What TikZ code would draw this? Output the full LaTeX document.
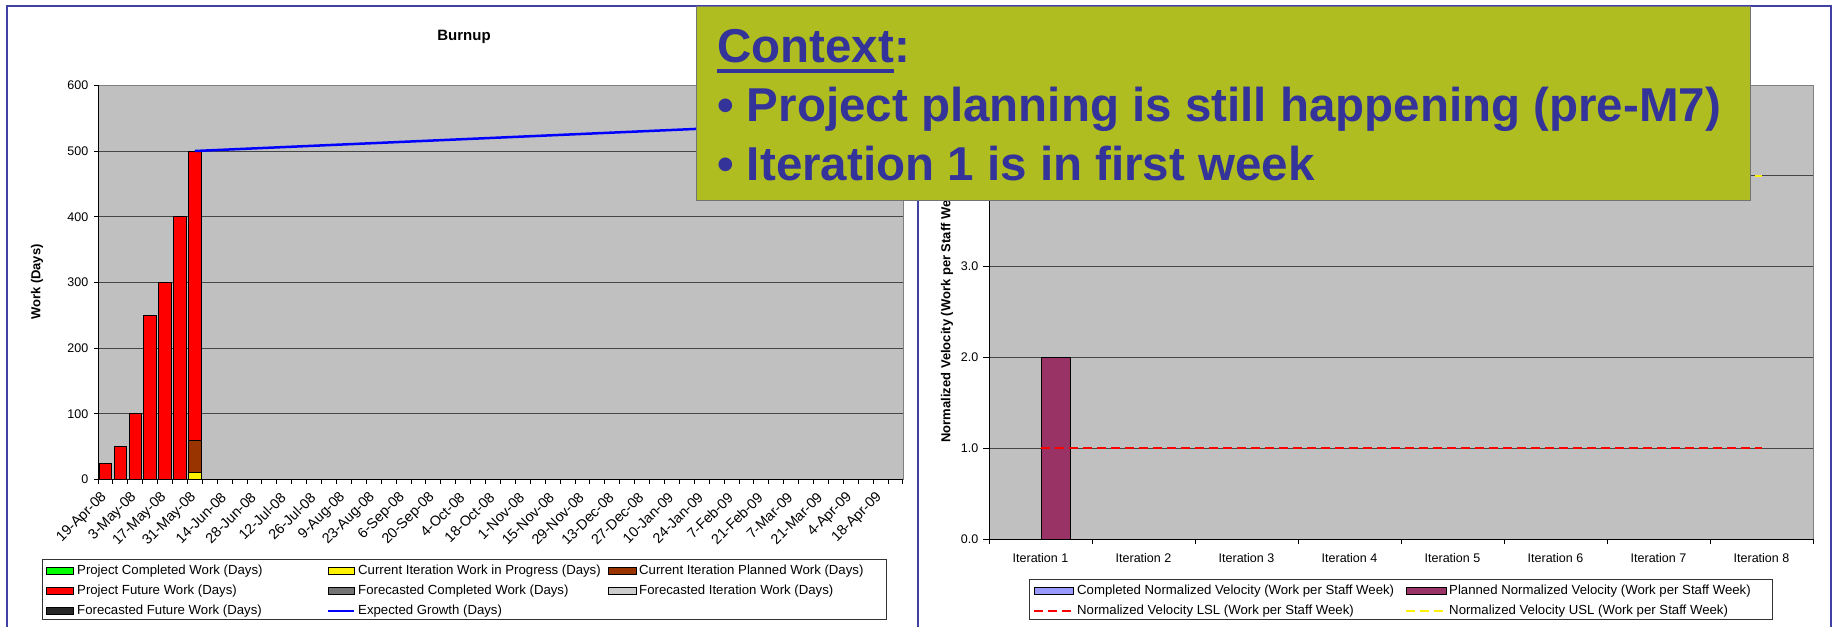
\documentclass[tikz,border=0pt]{standalone}
\usepackage{fontspec}
\setmainfont{Liberation Sans}
\usetikzlibrary{patterns}
\definecolor{plotbg}{RGB}{192,192,192}
\definecolor{frameblue}{RGB}{64,64,165}
\definecolor{callfill}{RGB}{175,189,33}
\definecolor{calltext}{RGB}{51,51,153}
\definecolor{gridc}{RGB}{70,70,70}
\definecolor{brownc}{RGB}{153,51,0}
\definecolor{maroonc}{RGB}{153,51,102}
\definecolor{lavc}{RGB}{153,153,255}
\definecolor{greenc}{RGB}{0,255,0}
\newcommand\tickfnt{\fontsize{12.5}{14}\selectfont}
\newcommand\datefnt{\fontsize{14.3}{16}\selectfont}
\newcommand\legfnt{\fontsize{13.2}{15}\selectfont}
\newcommand\callfnt{\fontsize{47.5}{50}\selectfont\bfseries}
\tikzset{
  gridline/.style={gridc, line width=1pt},
  axisline/.style={black, line width=1pt},
  plotframe/.style={gray, line width=1pt},
  barbox/.style={draw=black, line width=0.9pt},
  ticklab/.style={font=\tickfnt, inner sep=0pt},
  datelab/.style={font=\datefnt, inner sep=0pt, rotate=45, anchor=east},
  legtext/.style={font=\legfnt, anchor=west, inner sep=0pt},
  legbox/.style={draw=black!80, line width=1pt, fill=white},
  swatch/.style={draw=black, line width=0.9pt},
  hatchdark/.style={swatch, shading angle=45, left color=black!85, middle color=white, right color=black!85},
  hatchmid/.style={swatch, shading angle=45, left color=black!55, middle color=white, right color=black!55},
  hatchlight/.style={swatch, shading angle=45, left color=black!20, middle color=white, right color=black!20},
  lsl/.style={red, line width=2pt, dash pattern=on 9pt off 5pt},
  usl/.style={yellow, line width=2pt, dash pattern=on 9pt off 5pt},
  frame/.style={frameblue, line width=2pt},
  calltxt/.style={text=calltext, font=\callfnt, anchor=base west, inner sep=0pt},
}
\begin{document}
\begin{tikzpicture}[x=1pt,y=-1pt]
\useasboundingbox (0,0) rectangle (1835,626);
\fill[white] (0,0) rectangle (1835,626);

% ================= LEFT CHART (Burnup) =================
\fill[plotbg] (98,85) rectangle (903,479.5);
\foreach \v in {100,200,300,400,500}
  \draw[gridline] (98,{479.5-\v*0.657}) -- (903,{479.5-\v*0.657});
\draw[plotframe] (98,85) rectangle (903,479.5);
\draw[axisline] (98,85) -- (98,479.5) -- (903,479.5);
\foreach \v in {0,100,200,300,400,500,600}{
  \draw[axisline] (94,{479.5-\v*0.657}) -- (98,{479.5-\v*0.657});
  \node[ticklab, anchor=east] (ly\v) at (88.5,{479.5-\v*0.657}) {\v};
}
\foreach \k in {0,...,54}
  \draw[axisline] ({98+\k*14.907},479.5) -- ({98+\k*14.907},484);
\foreach \d [count=\k from 0] in {19-Apr-08,3-May-08,17-May-08,31-May-08,14-Jun-08,28-Jun-08,12-Jul-08,26-Jul-08,9-Aug-08,23-Aug-08,6-Sep-08,20-Sep-08,4-Oct-08,18-Oct-08,1-Nov-08,15-Nov-08,29-Nov-08,13-Dec-08,27-Dec-08,10-Jan-09,24-Jan-09,7-Feb-09,21-Feb-09,7-Mar-09,21-Mar-09,4-Apr-09,18-Apr-09}
  \node[datelab] (lx\k) at ({98+(2*\k+0.5)*14.907-1},495) {\d};

% bars
\foreach \i/\h in {0/25,1/50,2/100,3/250,4/300,5/400}
  \draw[barbox, fill=red] ({98+(\i+0.5)*14.907-6.25},479.5) rectangle ({98+(\i+0.5)*14.907+6.25},{479.5-\h*0.657});
\draw[barbox, fill=yellow] ({98+6.5*14.907-6.25},479.5) rectangle ({98+6.5*14.907+6.25},{479.5-10*0.657});
\draw[barbox, fill=brownc] ({98+6.5*14.907-6.25},{479.5-10*0.657}) rectangle ({98+6.5*14.907+6.25},{479.5-60*0.657});
\draw[barbox, fill=red] ({98+6.5*14.907-6.25},{479.5-60*0.657}) rectangle ({98+6.5*14.907+6.25},{479.5-500*0.657});

% expected growth
\coordinate (gs) at ({98+6.5*14.907},151);
\coordinate (ge) at (903,119.8);
\draw[blue, line width=2.5pt] (gs) -- (ge);

\node[font=\bfseries\fontsize{15}{17}\selectfont] (ltitle) at (464,37) {Burnup};
\node[font=\bfseries\fontsize{13}{15}\selectfont, rotate=90] (lytitle) at (37,282) {Work (Days)};

% left legend
\draw[legbox] (42,559) rectangle (886,619);
\draw[swatch, fill=greenc] (46,567.5) rectangle (73,574.5);
\node[legtext] (lg1) at (77,571) {Project Completed Work (Days)};
\draw[swatch, fill=red] (46,587.5) rectangle (73,594.5);
\node[legtext] (lg2) at (77,591) {Project Future Work (Days)};
\shade[hatchdark] (46,607.5) rectangle (73,614.5);
\node[legtext] (lg3) at (77,611) {Forecasted Future Work (Days)};
\draw[swatch, fill=yellow] (328,567.5) rectangle (354,574.5);
\node[legtext] (lg4) at (358,571) {Current Iteration Work in Progress (Days)};
\shade[hatchmid] (328,587.5) rectangle (354,594.5);
\node[legtext] (lg5) at (358,591) {Forecasted Completed Work (Days)};
\draw[blue, line width=2.5pt] (328,611) -- (354,611);
\node[legtext] (lg6) at (358,611) {Expected Growth (Days)};
\draw[swatch, fill=brownc] (608,567.5) rectangle (636,574.5);
\node[legtext] (lg7) at (639,571) {Current Iteration Planned Work (Days)};
\shade[hatchlight] (608,587.5) rectangle (636,594.5);
\node[legtext] (lg8) at (639,591) {Forecasted Iteration Work (Days)};

% ================= RIGHT CHART (Velocity) =================
\fill[plotbg] (989,85) rectangle (1813,539);
\foreach \v in {1,2,3,4}
  \draw[gridline] (989,{539-\v*90.8}) -- (1813,{539-\v*90.8});
\draw[plotframe] (989,85) rectangle (1813,539);
\draw[axisline] (989,85) -- (989,539) -- (1813,539);
\foreach \v in {0,1,2,3,4,5}{
  \draw[axisline] (983,{539-\v*90.8}) -- (989,{539-\v*90.8});
  \node[ticklab, anchor=east] (ry\v) at (978.5,{539-\v*90.8}) {\v.0};
}
\foreach \k in {0,...,8}
  \draw[axisline] ({989+\k*103},539) -- ({989+\k*103},543.5);
\foreach \k in {1,...,8}
  \node[ticklab] (rx\k) at ({989+(\k-0.5)*103},558) {Iteration \k};

\draw[barbox, fill=maroonc] (1041,539) rectangle (1070,{539-2*90.8});
\coordinate (ls) at (1040.5,{539-90.8});
\coordinate (le) at (1761.5,{539-90.8});
\draw[lsl] (ls) -- (le);
\coordinate (us) at (1040.5,{539-4*90.8});
\coordinate (ue) at (1761.5,{539-4*90.8});
\draw[usl] (us) -- (ue);

\node[font=\bfseries\fontsize{13}{15}\selectfont, rotate=90] (rytitle) at (947,312) {Normalized Velocity (Work per Staff Week)};

% right legend
\draw[legbox] (1029,579) rectangle (1772,619);
\draw[swatch, fill=lavc] (1034,587.5) rectangle (1073,594.5);
\node[legtext] (rg1) at (1077,591) {Completed Normalized Velocity (Work per Staff Week)};
\draw[swatch, fill=maroonc] (1406,587.5) rectangle (1446,594.5);
\node[legtext] (rg2) at (1449,591) {Planned Normalized Velocity (Work per Staff Week)};
\draw[lsl] (1034,611) -- (1073,611);
\node[legtext] (rg3) at (1077,611) {Normalized Velocity LSL (Work per Staff Week)};
\draw[usl] (1406,611) -- (1446,611);
\node[legtext] (rg4) at (1449,611) {Normalized Velocity USL (Work per Staff Week)};

% ================= FRAMES =================
\draw[frame] (7,640) -- (7,6) -- (1831,6) -- (1831,640);
\draw[frame] (918,6) -- (918,640);

% ================= CALLOUT =================
\draw[fill=callfill, draw=black!55, line width=1pt] (696,7) rectangle (1750,200);
\node[calltxt] (ctx) at (717,63) {Context};
\node[calltxt] (colon) at (ctx.base east) {:};
\draw[calltext, line width=4pt] ([yshift=-7.5pt]ctx.base west) -- ([yshift=-7.5pt]ctx.base east);
\node[calltxt] (b1) at (717,121) {• Project planning is still happening (pre-M7)};
\node[calltxt] (b2) at (717,180) {• Iteration 1 is in first week};
\end{tikzpicture}
\end{document}
